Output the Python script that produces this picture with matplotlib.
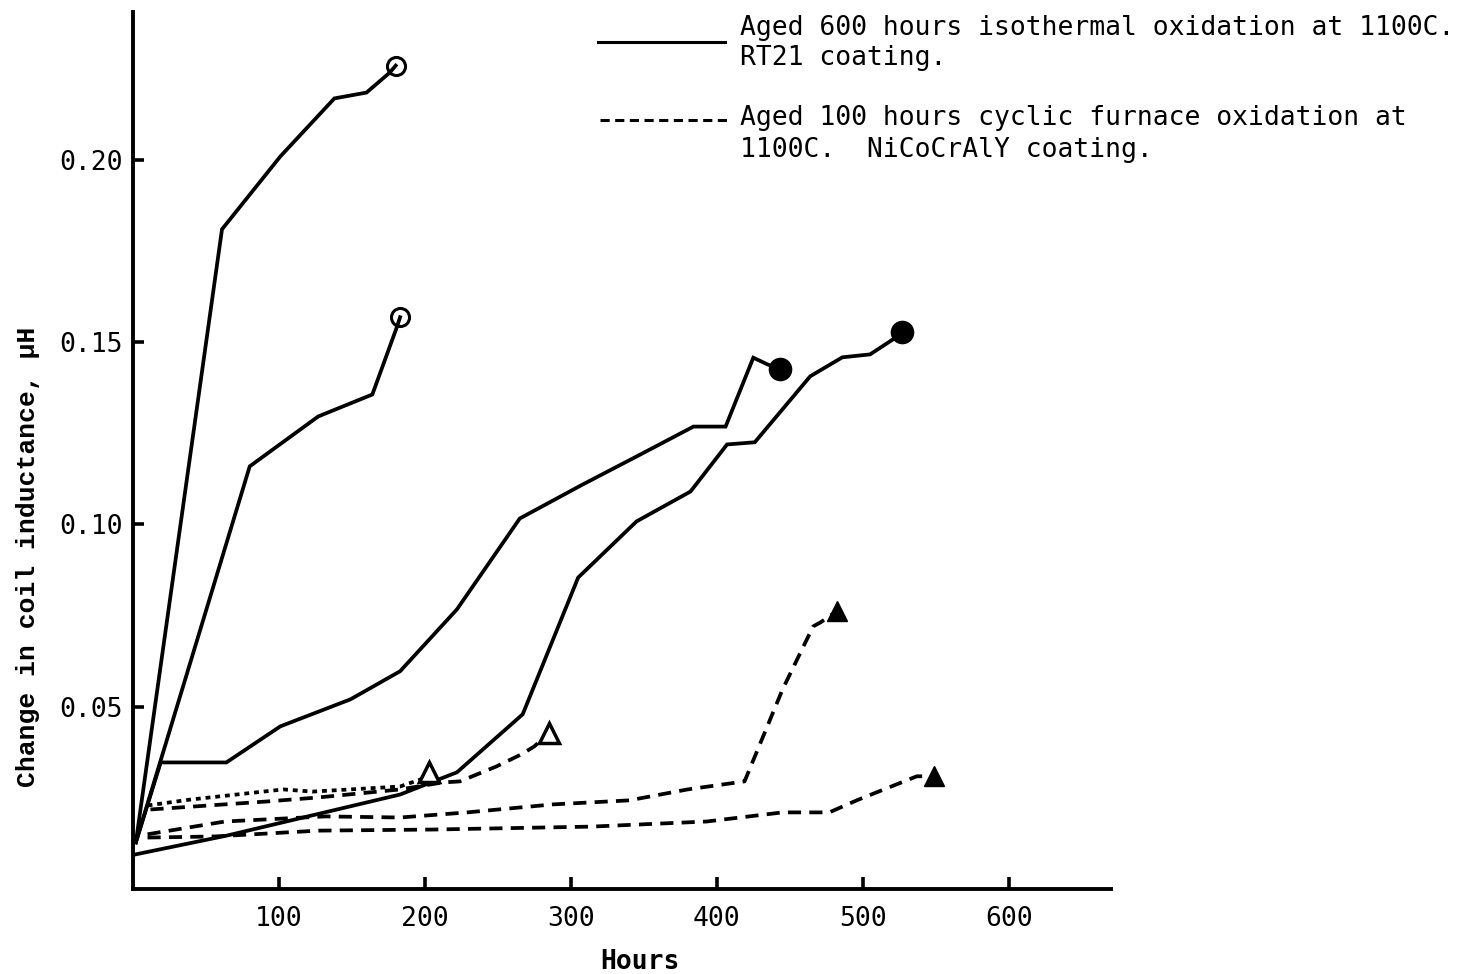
import matplotlib
matplotlib.use('Agg')
import matplotlib.pyplot as plt
from matplotlib.lines import Line2D

# RT21 coating, aged 600 h isothermal (solid lines)
a_hours = [2, 61, 101, 138, 160, 176, 180]
a_ind = [0.0128, 0.1809, 0.2009, 0.2168, 0.2184, 0.2239, 0.2258]

b_hours = [2, 80, 127, 164, 181, 183]
b_ind = [0.0128, 0.1159, 0.1296, 0.1356, 0.1543, 0.1568]

c_hours = [2, 19, 64, 101, 149, 183, 222, 265, 308, 345, 384, 406, 425, 435, 443]
c_ind = [0.0128, 0.0347, 0.0347, 0.0446, 0.0520, 0.0597, 0.0767, 0.1016,
         0.1109, 0.1186, 0.1268, 0.1268, 0.1457, 0.1438, 0.1427]

d_hours = [2, 65, 183, 222, 267, 305, 345, 382, 407, 426, 464, 486, 505, 521, 527]
d_ind = [0.0095, 0.0147, 0.0259, 0.0320, 0.0479, 0.0854, 0.1008, 0.1090,
         0.1219, 0.1225, 0.1406, 0.1458, 0.1466, 0.1508, 0.1527]

# NiCoCrAlY coating, aged 100 h cyclic furnace (dashed lines)
e_hours = [10, 39, 103, 123, 183, 201, 203]
e_ind = [0.0229, 0.0245, 0.0273, 0.0267, 0.0281, 0.0306, 0.0322]

f_hours = [12, 92, 127, 183, 212, 224, 249, 266, 275, 285]
f_ind = [0.0218, 0.0240, 0.0251, 0.0273, 0.0292, 0.0295, 0.0336, 0.0369, 0.0391, 0.0429]

g_hours = [10, 63, 132, 183, 229, 288, 340, 380, 419, 445, 466, 471, 482]
g_ind = [0.0150, 0.0185, 0.0199, 0.0196, 0.0210, 0.0232, 0.0243, 0.0273,
         0.0295, 0.0547, 0.0720, 0.0731, 0.0761]

h_hours = [10, 56, 127, 206, 314, 393, 445, 477, 497, 537, 549]
h_ind = [0.0141, 0.0144, 0.0160, 0.0163, 0.0171, 0.0185, 0.0210, 0.0210,
         0.0245, 0.0309, 0.0309]

x_ticks = [100, 200, 300, 400, 500, 600]
y_ticks = [0.05, 0.10, 0.15, 0.20]
y_tick_labels = ['0.05', '0.10', '0.15', '0.20']

legend_solid = ['Aged 600 hours isothermal oxidation at 1100C.', 'RT21 coating.']
legend_dash = ['Aged 100 hours cyclic furnace oxidation at', '1100C.  NiCoCrAlY coating.']

mono = ['DejaVu Sans Mono']

fig = plt.figure(figsize=(14.61, 9.74), dpi=100)
ax = fig.add_axes([0.091, 0.0873, 0.6694, 0.9004])

solid = dict(color='black', lw=2.7, solid_joinstyle='miter')
dash = dict(color='black', lw=2.7, linestyle=(0, (3.5, 2.2)))

ax.plot(a_hours, a_ind, **solid, marker='o', markevery=[len(a_hours) - 1],
        ms=13, mfc='none', mec='black', mew=2.2)
ax.plot(b_hours, b_ind, **solid, marker='o', markevery=[len(b_hours) - 1],
        ms=13, mfc='none', mec='black', mew=2.2)
ax.plot(c_hours, c_ind, **solid, marker='o', markevery=[len(c_hours) - 1],
        ms=16, mfc='black', mec='black')
ax.plot(d_hours, d_ind, **solid, marker='o', markevery=[len(d_hours) - 1],
        ms=16, mfc='black', mec='black')

ax.plot(e_hours, e_ind, color='black', lw=2.7, linestyle=(0, (1.3, 1.3)),
        marker='^', markevery=[len(e_hours) - 1], ms=14, mfc='white', mec='black', mew=2.5)
ax.plot(f_hours, f_ind, **dash, marker='^', markevery=[len(f_hours) - 1],
        ms=14, mfc='white', mec='black', mew=2.5)
ax.plot(g_hours, g_ind, **dash, marker='^', markevery=[len(g_hours) - 1],
        ms=15, mfc='black', mec='black')
ax.plot(h_hours, h_ind, **dash, marker='^', markevery=[len(h_hours) - 1],
        ms=15, mfc='black', mec='black')

ax.set_xlim(0, 670)
ax.set_ylim(0, 0.2405)
for s in ['top', 'right']:
    ax.spines[s].set_visible(False)
for s in ['left', 'bottom']:
    ax.spines[s].set_linewidth(2.8)

ax.set_xticks(x_ticks)
ax.set_xticklabels([str(t) for t in x_ticks], family=mono, fontsize=19)
ax.set_yticks(y_ticks)
ax.set_yticklabels(y_tick_labels, family=mono, fontsize=19)
ax.tick_params(axis='x', direction='in', length=9, width=2.6, pad=12)
ax.tick_params(axis='y', direction='in', length=8, width=2.6, pad=7)

fig.text(640 / 1461, 1 - 962 / 974, 'Hours', family=mono, fontsize=19,
         fontweight='bold', ha='center', va='center')
fig.text(28 / 1461, 1 - 557 / 974, 'Change in coil inductance, μH',
         family=['Liberation Mono', 'DejaVu Sans Mono'], fontweight='bold',
         fontsize=19, rotation=90, ha='center', va='center')

# legend drawn by hand, like the original
fig.add_artist(Line2D([598 / 1461, 725 / 1461], [1 - 42 / 974, 1 - 42 / 974],
                      color='black', lw=2.2))
fig.add_artist(Line2D([600 / 1461, 728 / 1461], [1 - 120 / 974, 1 - 120 / 974],
                      color='black', lw=2.2, linestyle=(0, (3, 1.8))))
fig.text(740 / 1461, 1 - 28 / 974, legend_solid[0], family=mono, fontsize=19, va='center')
fig.text(740 / 1461, 1 - 58 / 974, legend_solid[1], family=mono, fontsize=19, va='center')
fig.text(740 / 1461, 1 - 118 / 974, legend_dash[0], family=mono, fontsize=19, va='center')
fig.text(740 / 1461, 1 - 150 / 974, legend_dash[1], family=mono, fontsize=19, va='center')

fig.savefig('out.png', dpi=100)
